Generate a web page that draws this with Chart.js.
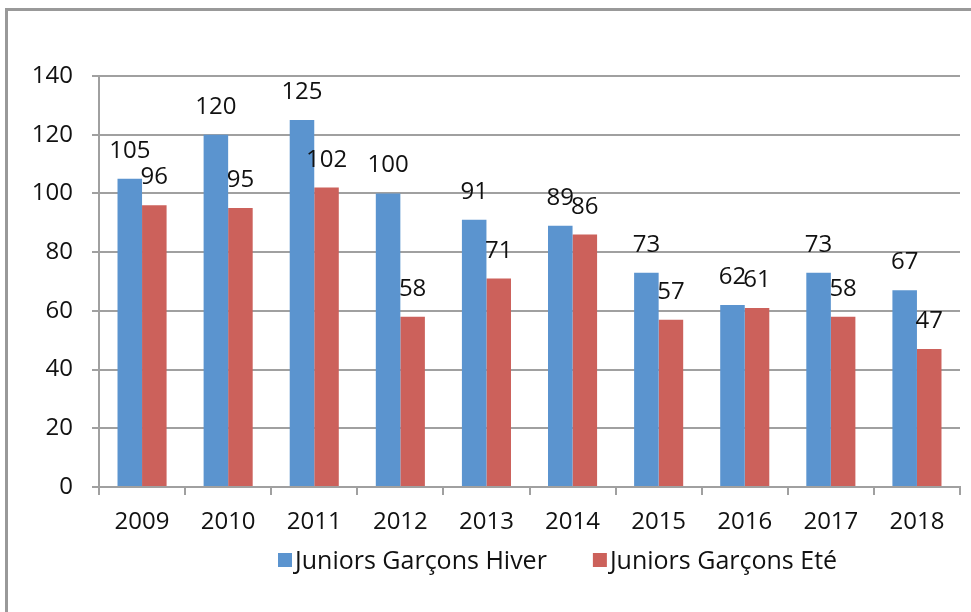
<!DOCTYPE html>
<html>
<head>
<meta charset="utf-8">
<script src="https://cdn.jsdelivr.net/npm/chart.js@4/dist/chart.umd.min.js"></script>
<style>
  html, body { margin: 0; padding: 0; background: #fff; }
  #wrap { position: relative; width: 971px; height: 612px; }
  #frame { position: absolute; left: 5px; top: 8px; width: 980px; height: 620px;
           border-top: 3px solid #999; border-left: 3px solid #999; box-sizing: border-box; }
  canvas { position: absolute; left: 0; top: 0; }
</style>
</head>
<body>
<div id="wrap">
  <div id="frame"></div>
  <canvas id="c" width="971" height="612"></canvas>
</div>
<script>
const years = ['2009','2010','2011','2012','2013','2014','2015','2016','2017','2018'];
const hiver = [105, 120, 125, 100, 91, 89, 73, 62, 73, 67];
const ete = [96, 95, 102, 58, 71, 86, 57, 61, 58, 47];
const yTicks = [0, 20, 40, 60, 80, 100, 120, 140];
const seriesNames = ['Juniors Garçons Hiver', 'Juniors Garçons Eté'];

const FONT = "'Open Sans', 'DejaVu Sans', sans-serif";

const labelPlugin = {
  id: 'valueLabels',
  afterDatasetsDraw(chart) {
    const ctx = chart.ctx;
    ctx.save();
    ctx.font = "24px " + FONT;
    ctx.fillStyle = '#111';
    ctx.textAlign = 'center';
    ctx.textBaseline = 'alphabetic';
    chart.data.datasets.forEach((ds, i) => {
      const meta = chart.getDatasetMeta(i);
      meta.data.forEach((bar, j) => {
        ctx.fillText(String(ds.data[j]), bar.x, bar.y - 21);
      });
    });
    ctx.restore();
  }
};

// legend drawn below the axis, items taken from the datasets
const legendPlugin = {
  id: 'customLegend',
  afterDraw(chart) {
    const ctx = chart.ctx;
    ctx.save();
    ctx.font = "25px " + FONT;
    ctx.textBaseline = 'middle';
    ctx.textAlign = 'left';
    let x = 278;
    const cy = 562;
    chart.data.datasets.forEach((ds) => {
      ctx.fillStyle = ds.backgroundColor;
      ctx.fillRect(x, cy - 9, 14, 14);
      ctx.fillStyle = '#111';
      const tx = x + 17;
      ctx.fillText(ds.label, tx, cy);
      x = tx + ctx.measureText(ds.label).width + 46;
    });
    ctx.restore();
  }
};

new Chart(document.getElementById('c'), {
  type: 'bar',
  data: {
    labels: years,
    datasets: [
      { label: seriesNames[0], data: hiver, backgroundColor: '#5B94CF', categoryPercentage: 0.57, barPercentage: 1.0 },
      { label: seriesNames[1], data: ete, backgroundColor: '#CC615B', categoryPercentage: 0.57, barPercentage: 1.0 }
    ]
  },
  options: {
    responsive: false,
    animation: false,
    layout: { padding: { top: 76, right: 11, left: 0, bottom: 75 } },
    plugins: {
      tooltip: { enabled: false },
      legend: { display: false }
    },
    scales: {
      x: {
        afterFit(s) { s.height = 50; },
        grid: { display: true, drawOnChartArea: false, drawTicks: true, tickLength: 8, color: '#a0a0a0', lineWidth: 2, offset: true },
        border: { display: true, color: '#a0a0a0', width: 2 },
        ticks: { font: { family: FONT, size: 24 }, color: '#111', padding: 13, maxRotation: 0 }
      },
      y: {
        min: 0, max: 140,
        afterFit(s) { s.width = 99; },
        afterBuildTicks(s) { s.ticks = yTicks.map(v => ({ value: v })); },
        grid: { color: '#a0a0a0', lineWidth: 2, drawTicks: true, tickLength: 7 },
        border: { display: true, color: '#a0a0a0', width: 2 },
        ticks: { font: { family: FONT, size: 24 }, color: '#111', padding: 19 }
      }
    }
  },
  plugins: [labelPlugin, legendPlugin]
});
</script>
</body>
</html>
